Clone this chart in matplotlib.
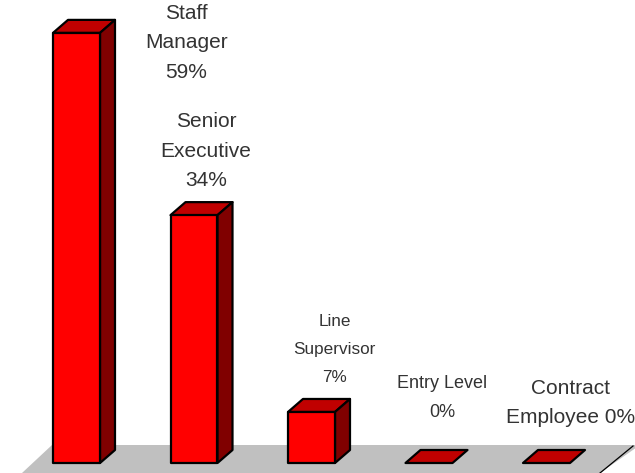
#!/usr/bin/env python3

import matplotlib
matplotlib.use('Agg')
import matplotlib.pyplot as plt
from matplotlib.patches import Polygon

# Values
categories = ['Staff\nManager', 'Senior\nExecutive', 'Line\nSupervisor', 'Entry Level', 'Contract\nEmployee']
values = [59, 34, 7, 0, 0]
separators = ['\n', '\n', '\n', '\n', ' ']

# Pixel sizes of the reference
WIDTH, HEIGHT = 635, 473
BASE_Y = 463        # pixel row of value 0
X0 = 76.5           # pixel column of the first bar centre
X_STEP = 117.5      # pixels per category
Y_STEP = 7.29       # pixels per percent
BAR_W = 47 / X_STEP
DX = 15 / X_STEP    # depth of the bars
DY = 13 / Y_STEP
LINE_PX = 30        # distance between label lines

# label centre, relative to the middle of the bar's front top edge (pixels)
label_offsets = [(110, -10), (12, 64), (23, 62), (13, 65), (24, 60)]
# the labels are not equally wide in the reference
label_sizes = [15, 15, 12.3, 13, 15]

plt.rcParams['font.family'] = ['Liberation Sans', 'DejaVu Sans']

fig = plt.figure(figsize=(WIDTH / 100, HEIGHT / 100), dpi=100)
ax = fig.add_axes([0, 0, 1, 1])
ax.set_xlim(-X0 / X_STEP, (WIDTH - X0) / X_STEP)
ax.set_ylim(-(HEIGHT - BASE_Y) / Y_STEP, BASE_Y / Y_STEP)
ax.axis('off')


def px(x, y):
    # pixel position of the reference -> data position
    return ((x - X0) / X_STEP, (BASE_Y - y) / Y_STEP)


# Grey floor, with only its right edge outlined
floor = [px(52, 445), px(640, 445), px(600, 473), px(22, 473)]
ax.add_patch(Polygon(floor, closed=True, facecolor='#c0c0c0', edgecolor='none', zorder=1))
ax.plot(*zip(px(633, 446), px(600, 473)), color='black', linewidth=0.9, zorder=2)

edge = dict(edgecolor='black', linewidth=1.6, joinstyle='round', zorder=3)

for i, v in enumerate(values):
    left = i - BAR_W / 2
    right = i + BAR_W / 2
    top_face = [(left, v), (right, v), (right + DX, v + DY), (left + DX, v + DY)]
    ax.add_patch(Polygon(top_face, closed=True, facecolor='#c00000', **edge))
    if v > 0:
        front = [(left, 0), (right, 0), (right, v), (left, v)]
        side = [(right, 0), (right + DX, DY), (right + DX, v + DY), (right, v)]
        ax.add_patch(Polygon(side, closed=True, facecolor='#800000', **edge))
        ax.add_patch(Polygon(front, closed=True, facecolor='#ff0000', **edge))

    ax.annotate(categories[i] + separators[i] + str(v) + '%', (i, v),
                xytext=label_offsets[i], textcoords='offset pixels',
                ha='center', va='center', multialignment='center',
                fontsize=label_sizes[i], linespacing=LINE_PX / (label_sizes[i] * 1.17),
                color='#333333', zorder=4)

fig.savefig('out.png', dpi=100)
